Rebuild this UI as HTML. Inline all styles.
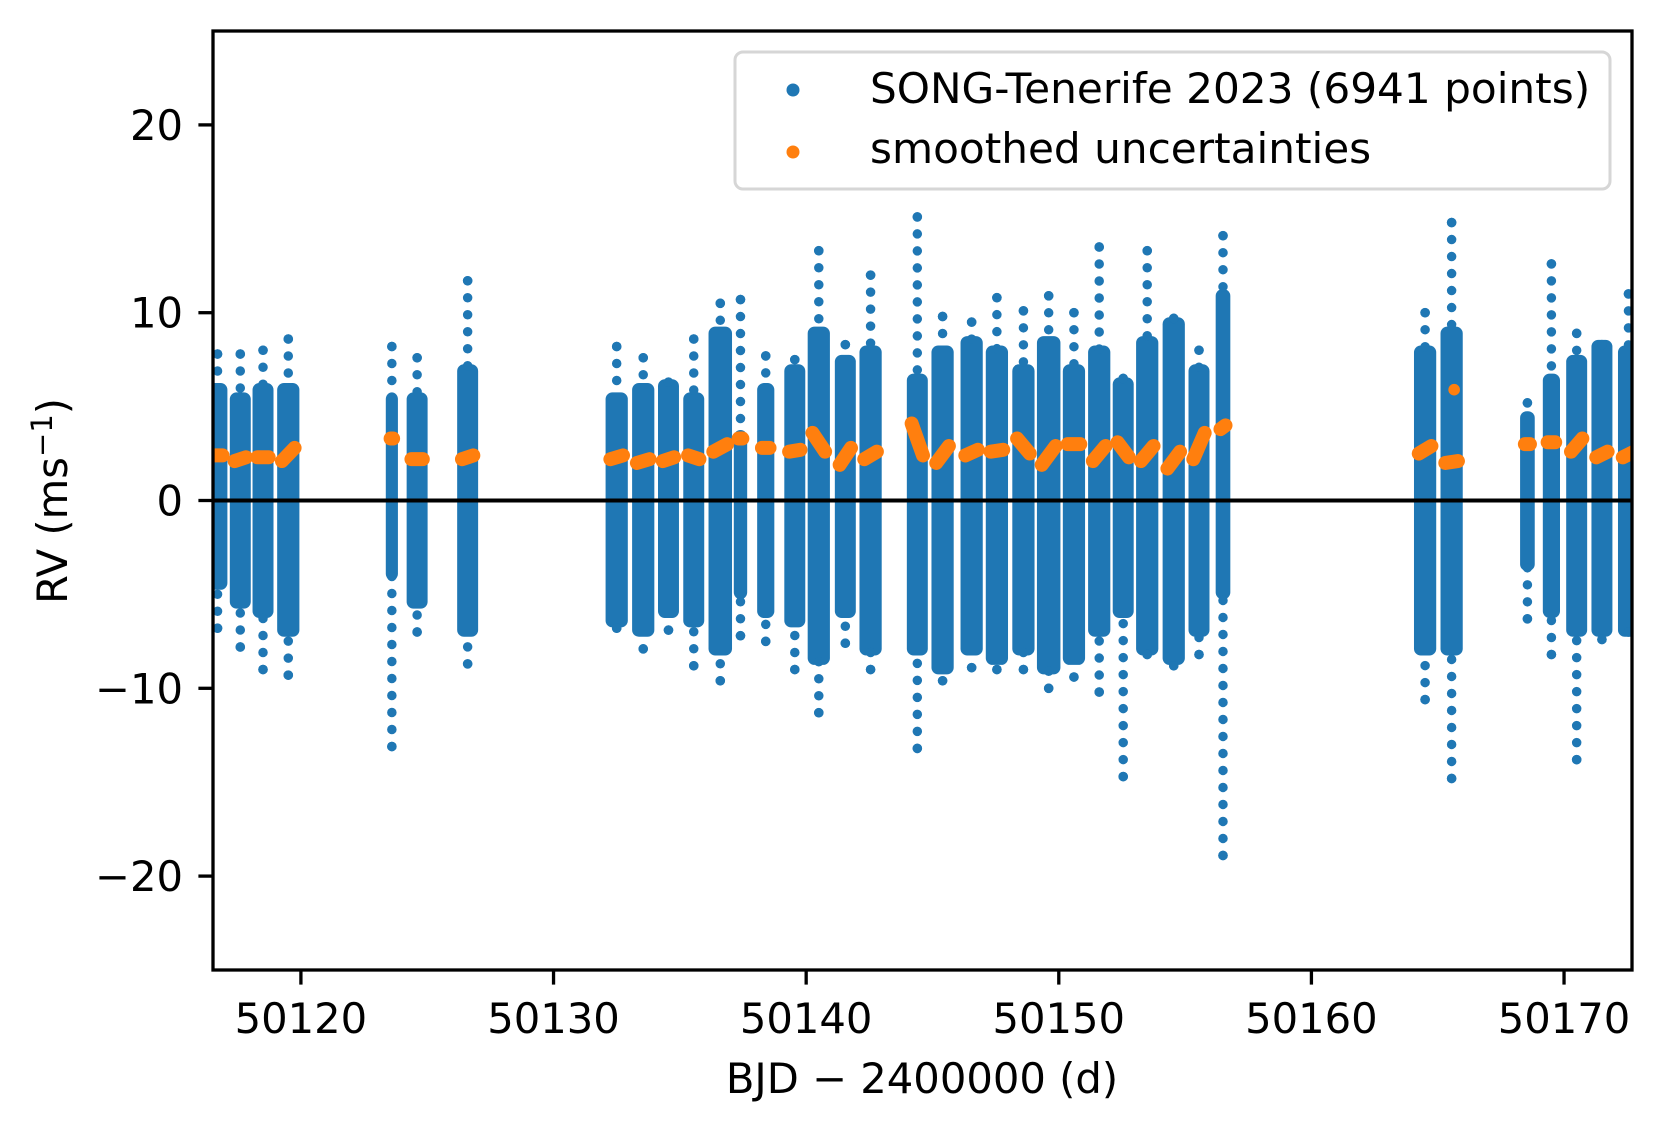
<!DOCTYPE html>
<html><head><meta charset="utf-8"><style>
html,body{margin:0;padding:0;background:#fff;}
svg{display:block;font-family:"DejaVu Sans","Liberation Sans",sans-serif;}
</style></head><body>
<svg id="chart" width="1662" height="1131" viewBox="0 0 1662 1131" xmlns="http://www.w3.org/2000/svg">
<defs><clipPath id="clip"><rect x="213" y="31" width="1419" height="939"/></clipPath></defs>
<rect width="1662" height="1131" fill="#fff"/>
<g id="plot" clip-path="url(#clip)"></g>
<g id="axes"></g>
</svg>
<script>
// nights: center time (BJD-2400000), width in days, dense core low/high (m/s)
const nightT = [50116.7,50117.6,50118.5,50119.5,50123.6,50124.6,50126.6,50132.5,50133.55,50134.55,50135.55,50136.6,50137.4,50138.4,50139.55,50140.5,50141.55,50142.55,50144.4,50145.4,50146.55,50147.55,50148.6,50149.6,50150.6,50151.6,50152.55,50153.5,50154.55,50155.55,50156.5,50164.5,50165.55,50168.55,50169.5,50170.5,50171.5,50172.55];
const nightW = [0.4,0.45,0.45,0.5,0.1,0.45,0.45,0.5,0.5,0.45,0.45,0.55,0.15,0.3,0.45,0.5,0.45,0.5,0.45,0.5,0.5,0.5,0.5,0.55,0.5,0.5,0.45,0.5,0.5,0.45,0.2,0.5,0.5,0.2,0.3,0.45,0.45,0.45];
const coreLo = [-4.5,-5.5,-6,-7,-4,-5.5,-7,-6.5,-7,-6,-6.5,-8,-5,-6,-6.5,-8.5,-6,-8,-8,-9,-8,-8.5,-8,-9,-8.5,-7,-6,-8,-8.5,-7,-5,-8,-8,-3.5,-6,-7,-7,-7];
const coreHi = [6,5.5,6,6,5.5,5.5,7,5.5,6,6.2,5.5,9,3.5,6,7,9,7.5,8,6.5,8,8.5,8,7,8.5,7,8,6.3,8.5,9.5,7,11,8,9,4.5,6.5,7.5,8.3,8];
const nightMax = [7.8,7.8,8,8.6,8.2,7.6,11.7,8.2,7.6,6.3,8.6,10.5,10.7,7.7,7.5,13.3,8.3,12,15.1,9.8,9.5,10.8,10.1,10.9,10,13.5,6.5,13.3,9.7,8,14.1,10,14.8,5.2,12.6,8.9,8.3,11];
const nightMin = [-6.8,-7.8,-9,-9.3,-13.1,-7,-8.7,-6.8,-7.9,-6.9,-8.8,-9.6,-7.2,-7.5,-9,-11.3,-7.6,-9,-13.2,-9.6,-8.9,-9,-9,-10,-9.4,-10.2,-14.7,-8.2,-8.8,-8.2,-18.9,-10.6,-14.8,-6.3,-8.2,-13.8,-7.4,-7];
// smoothed uncertainties: start/end value per night
const uncStart = [2.4,2.1,2.3,2.1,3.3,2.2,2.2,2.2,2.0,2.1,2.4,2.6,3.3,2.8,2.6,3.6,1.9,2.2,4.1,2.0,2.4,2.6,3.3,1.9,3.0,2.1,3.1,2.1,1.7,2.2,3.8,2.5,2.0,3.0,3.1,2.6,2.3,2.3];
const uncEnd =   [2.4,2.3,2.3,2.8,3.3,2.2,2.4,2.4,2.2,2.3,2.2,3.0,3.3,2.8,2.7,2.6,2.8,2.6,2.4,2.9,2.7,2.7,2.5,2.9,3.0,2.9,2.3,2.9,2.6,3.6,4.0,2.9,2.1,3.0,3.1,3.3,2.6,2.6];
const uncExtraT = [50165.65];
const uncExtraV = [5.9];
const xTicks = [50120,50130,50140,50150,50160,50170];
const yTicks = [-20,-10,0,10,20];
const yTickLabels = ["\u221220","\u221210","0","10","20"];

const X0=213,X1=1632,Y0=31,Y1=970, XMIN=50116.52, XMAX=50172.69, YMIN=-25, YMAX=25;
const X = t => X0 + (t-XMIN)/(XMAX-XMIN)*(X1-X0);
const Y = v => Y1 - (v-YMIN)/(YMAX-YMIN)*(Y1-Y0);
const NS="http://www.w3.org/2000/svg";
const R=4.8, BLUE="#1f77b4", ORANGE="#ff7f0e";
function mk(tag, attrs, parent){const e=document.createElementNS(NS,tag);for(const k in attrs)e.setAttribute(k,attrs[k]);parent.appendChild(e);return e;}
const plot=document.getElementById('plot'), axes=document.getElementById('axes');

for(let i=0;i<nightT.length;i++){
  const xa=X(nightT[i]-nightW[i]/2)-R, xb=X(nightT[i]+nightW[i]/2)+R;
  const s=mk('rect',{x:xa,y:Y(coreHi[i])-R,width:xb-xa,height:Y(coreLo[i])-Y(coreHi[i])+2*R,rx:R+2,fill:BLUE},plot);
  
  
  const xc=X(nightT[i]);
  const tu=mk('line',{x1:xc,x2:xc,y1:Y(nightMax[i]),y2:Y(coreHi[i]),stroke:BLUE,'stroke-width':9.5,'stroke-linecap':'round','stroke-dasharray':'0 17'},plot);
  
  
  const tl=mk('line',{x1:xc,x2:xc,y1:Y(nightMin[i]),y2:Y(coreLo[i]),stroke:BLUE,'stroke-width':9.5,'stroke-linecap':'round','stroke-dasharray':'0 17'},plot);
  
  
  const a=mk('circle',{cx:xc,cy:Y(nightMax[i]),r:R,fill:BLUE},plot);
  
  
  const b=mk('circle',{cx:xc,cy:Y(nightMin[i]),r:R,fill:BLUE},plot);
  
  
}
for(let i=0;i<nightT.length;i++){
  const u=mk('line',{x1:X(nightT[i]-nightW[i]/2),y1:Y(uncStart[i]),x2:X(nightT[i]+nightW[i]/2),y2:Y(uncEnd[i]),stroke:ORANGE,'stroke-width':14,'stroke-linecap':'round'},plot);
  
  
}
for(let i=0;i<uncExtraT.length;i++){
  const c=mk('circle',{cx:X(uncExtraT[i]),cy:Y(uncExtraV[i]),r:R+1,fill:ORANGE},plot);
  
  
}
const z=mk('line',{x1:X0,x2:X1,y1:Y(0),y2:Y(0),stroke:'#000','stroke-width':4},axes);


const fr=mk('rect',{x:X0,y:Y0,width:X1-X0,height:Y1-Y0,fill:'none',stroke:'#000','stroke-width':3.3},axes);


for(let i=0;i<xTicks.length;i++){
  const x=X(xTicks[i]);
  const t=mk('line',{x1:x,x2:x,y1:Y1,y2:Y1+14.6,stroke:'#000','stroke-width':3.3},axes);
  
  
  const l=mk('text',{x:x,y:1033,'text-anchor':'middle','font-size':'41.7px',fill:'#000'},axes);
  l.textContent=String(xTicks[i]);
  
  
}
for(let i=0;i<yTicks.length;i++){
  const y=Y(yTicks[i]);
  const t=mk('line',{x1:X0-14.6,x2:X0,y1:y,y2:y,stroke:'#000','stroke-width':3.3},axes);
  
  
  const l=mk('text',{x:183,y:y+15,'text-anchor':'end','font-size':'41.7px',fill:'#000'},axes);
  l.textContent=yTickLabels[i];
  
  
}
</script>
<svg style="position:absolute;left:0;top:0" width="1662" height="1131" xmlns="http://www.w3.org/2000/svg" font-family="DejaVu Sans, Liberation Sans, sans-serif">
<text x="922" y="1093" text-anchor="middle" font-size="41.7">BJD − 2400000 (d)</text>
<text transform="translate(67,501) rotate(-90)" text-anchor="middle" font-size="41.7">RV (ms<tspan dy="-15" font-size="29">−1</tspan><tspan dy="15">)</tspan></text>
<g>
<rect x="735" y="52" width="875" height="137" rx="8" fill="#fff" fill-opacity="0.8" stroke="#d6d6d6" stroke-width="3"/>
<circle cx="793" cy="90" r="6.5" fill="#1f77b4"/>
<text x="870" y="103" font-size="42.2">SONG-Tenerife 2023 (6941 points)</text>
<circle cx="793" cy="152" r="6.5" fill="#ff7f0e"/>
<text x="870" y="163" font-size="42.2">smoothed uncertainties</text>
</g>
</svg>
</body></html>
